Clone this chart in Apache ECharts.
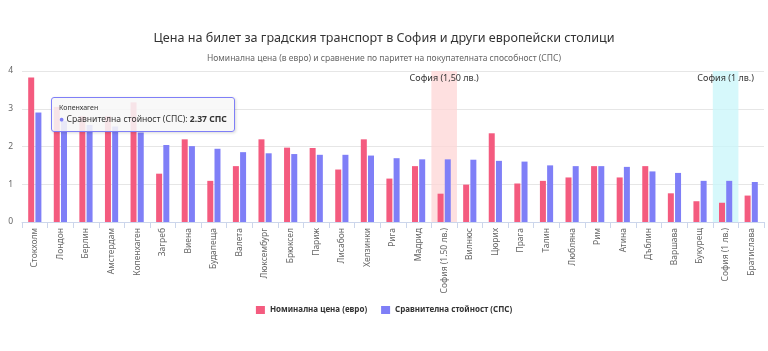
<!DOCTYPE html>
<html>
<head>
<meta charset="utf-8">
<script src="https://cdn.jsdelivr.net/npm/echarts@6/dist/echarts.min.js"></script>
<style>
	html,body{margin:0;padding:0;background:#fff;}
	#chart{width:768px;height:351px;}
</style>
</head>
<body>
<div id="chart"></div>
<script>
	// градове
	var cities = ['Стокхолм','Лондон','Берлин','Амстердам','Копенхаген','Загреб','Виена','Будапеща','Валета','Люксембург',
		'Брюксел','Париж','Лисабон','Хелзинки','Рига','Мадрид','София (1.50 лв.)','Вилнюс','Цюрих','Прага',
		'Талин','Любляна','Рим','Атина','Дъблин','Варшава','Букурещ','София (1 лв.)','Братислава']
	// номинална цена (евро)
	var nominal = [3.83,3.05,2.8,2.8,3.17,1.28,2.19,1.09,1.48,2.19,
		1.97,1.96,1.39,2.19,1.15,1.48,0.75,0.99,2.35,1.02,
		1.09,1.18,1.48,1.18,1.48,0.76,0.55,0.51,0.7]
	// сравнителна стойност (СПС)
	var pps = [2.9,2.68,2.57,2.53,2.37,2.04,2.01,1.94,1.85,1.82,
		1.8,1.78,1.78,1.76,1.69,1.66,1.66,1.65,1.62,1.6,
		1.5,1.48,1.48,1.46,1.34,1.3,1.09,1.09,1.06]
	// маркирани колони за София
	var bandCities = ['София (1.50 лв.)','София (1 лв.)']
	var bandLabels = ['София (1,50 лв.)','София (1 лв.)']
	var bandColors = ['rgba(253,214,214,0.75)','rgba(200,245,250,0.75)']
	var yTicks = [0,1,2,3,4]

	var font = 'Noto Sans'
	var chart = echarts.init(document.getElementById('chart'))

	var bandData = cities.map(function(c){
		var i = bandCities.indexOf(c)
		if (i < 0) return '-'
		return {
			value: yTicks[yTicks.length-1],
			itemStyle: {color: bandColors[i]},
			label: {show: true, formatter: bandLabels[i]}
		}
	})

	chart.setOption({
		animation: false,
		textStyle: {fontFamily: font},
		title: {
			text: 'Цена на билет за градския транспорт в София и други европейски столици',
			subtext: 'Номинална цена (в евро) и сравнение по паритет на покупателната способност (СПС)',
			left: 'center',
			top: 27,
			itemGap: 9,
			textStyle: {fontSize: 12.6, fontWeight: 'normal', color: '#333', fontFamily: font},
			subtextStyle: {fontSize: 8.5, color: '#666', fontFamily: font}
		},
		legend: {
			data: ['Номинална цена (евро)','Сравнителна стойност (СПС)'],
			bottom: 32,
			left: 'center',
			itemWidth: 9,
			itemHeight: 8,
			itemGap: 14,
			icon: 'rect',
			textStyle: {fontSize: 8, fontWeight: 'bold', color: '#333', fontFamily: font}
		},
		tooltip: {
			trigger: 'item',
			triggerOn: 'none',
			alwaysShowContent: true,
			backgroundColor: 'rgba(247,247,247,0.88)',
			borderColor: '#7f7ff7',
			borderWidth: 1,
			padding: [5, 7],
			extraCssText: 'border-radius:3px;box-shadow:1px 1px 3px rgba(0,0,0,0.15);',
			position: function(){ return [51, 97] },
			formatter: function(p){
				return '<div style="font-size:7px;color:#333;line-height:10px">' + p.name + '</div>' +
					'<div style="font-size:8.6px;color:#333;line-height:13px">' +
					'<span style="color:' + p.color + '">\u25CF</span> ' + p.seriesName + ': <b>' + p.value + ' СПС</b></div>'
			}
		},
		grid: {left: 22, right: 4, top: 71, bottom: 129},
		xAxis: [{
			type: 'category',
			data: cities,
			axisLine: {lineStyle: {color: '#ccd6eb'}},
			axisTick: {show: true, length: 6, lineStyle: {color: '#ccd6eb'}},
			axisLabel: {rotate: 90, interval: 0, fontSize: 8.5, color: '#666', margin: 6, fontFamily: font}
		},{
			type: 'category',
			data: cities,
			show: false
		}],
		yAxis: {
			type: 'value',
			min: 0,
			max: 4,
			interval: 1,
			axisLine: {show: false},
			axisTick: {show: false},
			axisLabel: {fontSize: 8.5, color: '#666', margin: 9, fontFamily: font},
			splitLine: {lineStyle: {color: '#e6e6e6'}}
		},
		series: [{
			name: 'band',
			type: 'bar',
			xAxisIndex: 1,
			barWidth: '100%',
			data: bandData,
			silent: true,
			z: 1,
			tooltip: {show: false},
			label: {position: 'insideTop', distance: 3, fontSize: 9, color: '#333', fontFamily: font}
		},{
			name: 'Номинална цена (евро)',
			type: 'bar',
			data: nominal,
			barWidth: 6,
			barGap: '20%',
			z: 2,
			itemStyle: {color: '#f45b7f'}
		},{
			name: 'Сравнителна стойност (СПС)',
			type: 'bar',
			data: pps,
			barWidth: 6,
			z: 2,
			itemStyle: {color: '#7f7ff7'}
		}]
	})
	chart.dispatchAction({type: 'showTip', seriesIndex: 2, dataIndex: 4})
</script>
</body>
</html>
